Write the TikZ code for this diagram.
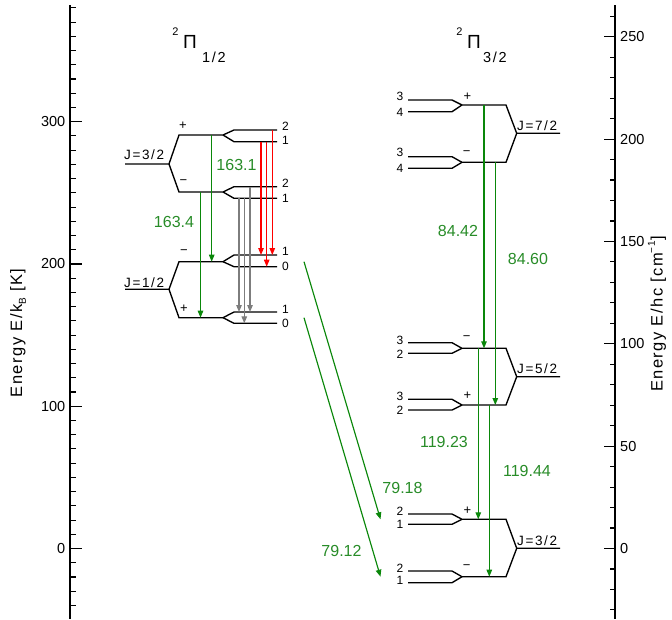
\documentclass[tikz,border=0pt]{standalone}
\usepackage{fontspec}
\setmainfont{Liberation Sans}
\newfontfamily\wfont[LetterSpace=12]{Liberation Sans}
\newfontfamily\xfont[LetterSpace=9]{Liberation Sans}
\usetikzlibrary{arrows.meta}
\definecolor{lgreen}{RGB}{10,135,10}
\definecolor{tgreen}{RGB}{40,140,40}
\definecolor{lgray}{RGB}{125,125,125}
\begin{document}
\begin{tikzpicture}[x=1pt,y=-1pt,
  lev/.style={line width=1.35pt,black},
  axl/.style={line width=1.4pt,black},
  tck/.style={line width=1.1pt,black},
  arr/.style={line width=1.15pt,-{Triangle[length=7pt,width=5.5pt]}},
  garr/.style={arr,lgreen},
  rarr/.style={arr,red},
  karr/.style={arr,lgray},
  glab/.style={font=\fontsize{16}{18}\selectfont,text=tgreen,inner sep=0pt},
  hf/.style={font=\fontsize{12}{12}\selectfont,inner sep=0pt},
  sg/.style={font=\fontsize{13}{13}\selectfont,inner sep=0pt},
  jl/.style={font=\wfont\fontsize{13.5}{14}\selectfont,inner sep=0pt,anchor=south west},
  tl/.style={font=\fontsize{14.5}{16}\selectfont,inner sep=0pt},
  al/.style={font=\xfont\fontsize{16.5}{17}\selectfont,inner sep=0pt,rotate=90}
]
\useasboundingbox (0,0) rectangle (672,619);
% axes
\coordinate (lat) at (70,5); \coordinate (lab) at (70,619);
\coordinate (rat) at (615,5); \coordinate (rab) at (615,619);
\draw[axl] (lat) -- (lab);
\draw[axl] (rat) -- (rab);
\foreach \e in {-40,-30,...,380} \draw[tck] (70,{548.5-1.4227*\e}) -- ++(6,0);
\foreach \e in {0,100,200,300} {
  \draw[tck] (70,{548.5-1.4227*\e}) -- ++(12,0);
  \node[tl,anchor=east] (lt\e) at (65.5,{548.5-1.4227*\e}) {\e};
}
\foreach \e in {-30,-20,...,260} \draw[tck] (615,{548.5-2.047*\e}) -- ++(-5,0);
\foreach \e in {0,50,100,150,200,250} {
  \draw[tck] (615,{548.5-2.047*\e}) -- ++(-11,0);
  \node[tl,anchor=west] (rt\e) at (620,{548.5-2.047*\e}) {\e};
}
\node[al] (ylab) at (18,333) {Energy E/k\raisebox{-0.45ex}{\fontsize{10}{10}\selectfont B} [K]};
\node[al] (yrab) at (657,314) {Energy E/hc [cm\raisebox{0.9ex}{\fontsize{10}{10}\selectfont −1}]};
% titles
\node[inner sep=0pt,font=\fontsize{11}{11}\selectfont] (t1a) at (175.5,31.5) {2};
\node[inner sep=0pt,font=\fontsize{19}{19}\selectfont] (t1b) at (190,41.5) {Π};
\node[inner sep=0pt,font=\wfont\fontsize{14.5}{14}\selectfont] (t1c) at (214,57.5) {1/2};
\node[inner sep=0pt,font=\fontsize{11}{11}\selectfont] (t2a) at (459.5,31.5) {2};
\node[inner sep=0pt,font=\fontsize{19}{19}\selectfont] (t2b) at (474,41.5) {Π};
\node[inner sep=0pt,font=\wfont\fontsize{14.5}{14}\selectfont] (t2c) at (495,57.5) {3/2};
% ---- left: 2Pi1/2, J=3/2
\draw[lev] (125,164) -- (169,164) -- (179,135) -- (223,135) -- (234,130) -- (277,130);
\draw[lev] (223,135) -- (234,141.7) -- (277,141.7);
\draw[lev] (169,164) -- (179,192) -- (223,192) -- (234,186.7) -- (277,186.7);
\draw[lev] (223,192) -- (234,198.3) -- (277,198.3);
\node[jl] (jL1) at (124,159.5) {J=3/2};
\node[sg] (sL1) at (183,126) {+};
\node[sg] (sL2) at (183.5,182) {−};
\node[hf] (fL1) at (285.5,126.5) {2};
\node[hf] (fL2) at (285.5,140.5) {1};
\node[hf] (fL3) at (285.5,183.5) {2};
\node[hf] (fL4) at (285.5,198) {1};
% ---- left: J=1/2
\draw[lev] (125,289.3) -- (169,289.3) -- (179,261.7) -- (223,261.7) -- (234,255) -- (277,255);
\draw[lev] (223,261.7) -- (234,266.7) -- (277,266.7);
\draw[lev] (169,289.3) -- (179,317.7) -- (223,317.7) -- (234,312) -- (277,312);
\draw[lev] (223,317.7) -- (234,323.3) -- (277,323.3);
\node[jl] (jL2) at (124,287.5) {J=1/2};
\node[sg] (sL3) at (184,251.7) {−};
\node[sg] (sL4) at (184,308.3) {+};
\node[hf] (fL5) at (285.5,251.7) {1};
\node[hf] (fL6) at (285.5,266.7) {0};
\node[hf] (fL7) at (285.5,309) {1};
\node[hf] (fL8) at (285.5,323.3) {0};
% ---- right: 2Pi3/2
% J=7/2
\draw[lev] (408,100) -- (452,100) -- (462,105) -- (506,105) -- (516.7,133.3) -- (560,133.3);
\draw[lev] (408,111.7) -- (452,111.7) -- (462,105);
\draw[lev] (408,156.7) -- (452,156.7) -- (462,162.3) -- (506,162.3) -- (516.7,133.3);
\draw[lev] (408,168.3) -- (452,168.3) -- (462,162.3);
\node[jl] (jR1) at (517,130.5) {J=7/2};
\node[sg] (sR1) at (467.3,96.7) {+};
\node[sg] (sR2) at (466.7,152.7) {−};
\node[hf] (fR1) at (400,96) {3};
\node[hf] (fR2) at (400,112.7) {4};
\node[hf] (fR3) at (400,152.7) {3};
\node[hf] (fR4) at (400,168.3) {4};
% J=5/2
\draw[lev] (408,342.7) -- (452,342.7) -- (462,348.3) -- (506,348.3) -- (516.7,376.7) -- (560,376.7);
\draw[lev] (408,353.3) -- (452,353.3) -- (462,348.3);
\draw[lev] (408,399.3) -- (452,399.3) -- (462,405) -- (506,405) -- (516.7,376.7);
\draw[lev] (408,410) -- (452,410) -- (462,405);
\node[jl] (jR2) at (517,374) {J=5/2};
\node[sg] (sR3) at (466.7,338.3) {−};
\node[sg] (sR4) at (467.3,396) {+};
\node[hf] (fR5) at (400,340) {3};
\node[hf] (fR6) at (400,354.3) {2};
\node[hf] (fR7) at (400,396.7) {3};
\node[hf] (fR8) at (400,410) {2};
% J=3/2
\draw[lev] (408,514) -- (452,514) -- (462,519.3) -- (506,519.3) -- (516.7,548.3) -- (560,548.3);
\draw[lev] (408,524.3) -- (452,524.3) -- (462,519.3);
\draw[lev] (408,571) -- (452,571) -- (462,576.7) -- (506,576.7) -- (516.7,548.3);
\draw[lev] (408,582.7) -- (452,582.7) -- (462,576.7);
\node[jl] (jR3) at (517,545.5) {J=3/2};
\node[sg] (sR5) at (467.3,510.7) {+};
\node[sg] (sR6) at (466.7,567.3) {−};
\node[hf] (fR9) at (400,511.7) {2};
\node[hf] (fR10) at (400,524.3) {1};
\node[hf] (fR11) at (400,568.3) {2};
\node[hf] (fR12) at (400,580.7) {1};
% ---- transitions
\coordinate (g1s) at (211.7,135);   \coordinate (g1e) at (211.7,261.7);
\coordinate (g2s) at (200.5,192);   \coordinate (g2e) at (200.5,317.7);
\draw[garr] (g1s) -- (g1e);
\draw[garr] (g2s) -- (g2e);
\coordinate (r1s) at (261,141.7);   \coordinate (r1e) at (261,255);
\coordinate (r2s) at (266.7,141.7); \coordinate (r2e) at (266.7,266.7);
\coordinate (r3s) at (272.3,130);   \coordinate (r3e) at (272.3,255);
\draw[rarr] (r1s) -- (r1e);
\draw[rarr] (r2s) -- (r2e);
\draw[rarr] (r3s) -- (r3e);
\coordinate (k1s) at (239,198.3);   \coordinate (k1e) at (239,312);
\coordinate (k2s) at (244.3,198.3); \coordinate (k2e) at (244.3,323.3);
\coordinate (k3s) at (250,186.7);   \coordinate (k3e) at (250,312);
\draw[karr] (k1s) -- (k1e);
\draw[karr] (k2s) -- (k2e);
\draw[karr] (k3s) -- (k3e);
\coordinate (h1s) at (484,105);     \coordinate (h1e) at (484,348.3);
\coordinate (h2s) at (495.3,162.3); \coordinate (h2e) at (495.3,405);
\coordinate (h3s) at (478.3,348.3); \coordinate (h3e) at (478.3,519.3);
\coordinate (h4s) at (489.3,405);   \coordinate (h4e) at (489.3,576.7);
\draw[garr] (h1s) -- (h1e);
\draw[garr] (h2s) -- (h2e);
\draw[garr] (h3s) -- (h3e);
\draw[garr] (h4s) -- (h4e);
\coordinate (d1s) at (304,261.7);   \coordinate (d1e) at (380.5,519.3);
\coordinate (d2s) at (304,317.7);   \coordinate (d2e) at (380.5,576.7);
\draw[garr] (d1s) -- (d1e);
\draw[garr] (d2s) -- (d2e);
% ---- transition labels
\node[glab] (w1) at (236.5,165) {163.1};
\node[glab] (w2) at (174,222) {163.4};
\node[glab] (w3) at (458,231) {84.42};
\node[glab] (w4) at (528,258.5) {84.60};
\node[glab] (w5) at (444,442) {119.23};
\node[glab] (w6) at (527,470.5) {119.44};
\node[glab] (w7) at (402.5,488) {79.18};
\node[glab] (w8) at (341.5,551) {79.12};
\end{tikzpicture}
\end{document}
